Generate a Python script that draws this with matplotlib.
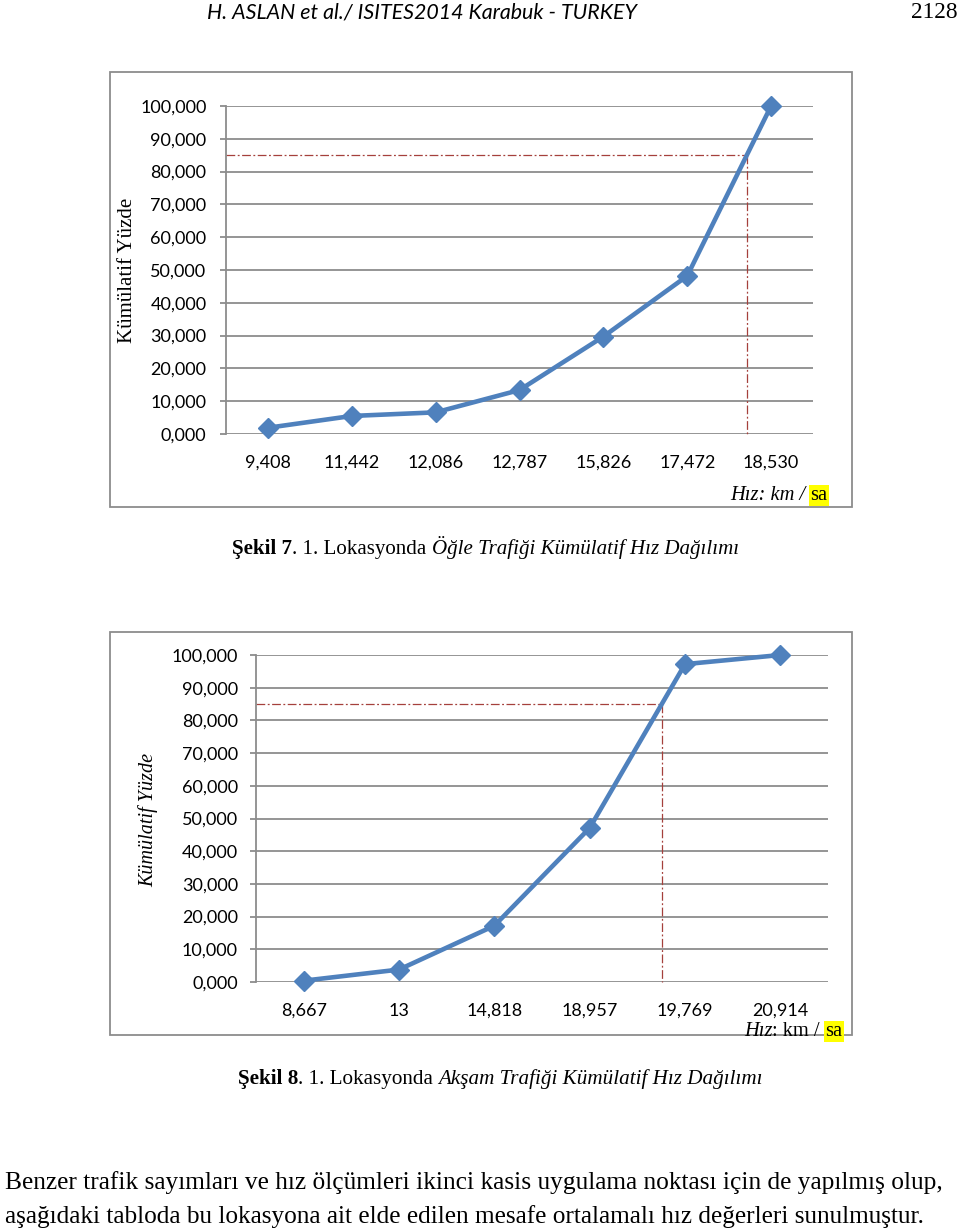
import numpy as np
import matplotlib
matplotlib.use("Agg")
from matplotlib import pyplot as plt
from matplotlib.patches import Rectangle

# Sekil 7 - ogle trafigi
noon_speeds = ["9,408", "11,442", "12,086", "12,787", "15,826", "17,472", "18,530"]
noon_cum = [1.9, 5.5, 6.6, 13.4, 29.7, 48.2, 100.0]

# Sekil 8 - aksam trafigi
eve_speeds = ["8,667", "13", "14,818", "18,957", "19,769", "20,914"]
eve_cum = [0.4, 3.8, 17.2, 47.1, 97.2, 100.0]

level_85 = 85.0
y_ticks = list(range(0, 101, 10))
y_tick_labels = [f"{v},000" for v in y_ticks]

W, H = 960, 1231
GRID = "#8c8c8c"
BLUE = "#4f81bd"
RED = "#a5403c"
SERIF = "Liberation Serif"
SANS = "Lato"

fig = plt.figure(figsize=(W / 100, H / 100), dpi=100)

# background axes in pixel coordinates for page text and frames
bg = fig.add_axes([0, 0, 1, 1])
bg.set_xlim(0, W)
bg.set_ylim(H, 0)
bg.axis("off")


def chain(x, y, parts, size):
    # write text pieces one after another on the same line
    prev = None
    for txt, kw in parts:
        if prev is None:
            prev = bg.text(x, y, txt, fontsize=size, family=SERIF, va="bottom", **kw)
        else:
            prev = bg.annotate(txt, xy=(1, 0), xycoords=prev, fontsize=size,
                               family=SERIF, va="bottom", **kw)
    return prev


def chart(left, right, top, bottom, labels, values, pad_y):
    ax = fig.add_axes([left / W, 1 - bottom / H, (right - left) / W, (bottom - top) / H])
    ax.patch.set_alpha(0)
    x = np.arange(len(labels))
    ax.set_xlim(-0.5, len(labels) - 0.5)
    ax.set_ylim(0, 100)
    ax.set_yticks(y_ticks, y_tick_labels)
    ax.set_xticks(x, labels)
    ax.grid(axis="y", color=GRID, lw=1.3)
    ax.set_axisbelow(True)
    for s in ["top", "right", "bottom"]:
        ax.spines[s].set_visible(False)
    ax.spines["left"].set_color(GRID)
    ax.spines["left"].set_linewidth(1.3)
    ax.tick_params(axis="y", length=4, color=GRID, width=1.3, pad=pad_y)
    ax.tick_params(axis="x", length=0, pad=15)
    for t in ax.get_xticklabels() + ax.get_yticklabels():
        t.set_fontfamily(SANS)
        t.set_fontsize(13)

    cross = np.interp(level_85, values, x)
    ax.plot([-0.5, cross], [level_85, level_85], color=RED, lw=0.9,
            ls=(0, (7, 2, 1.5, 2)), clip_on=False)
    ax.plot([cross, cross], [level_85, 0], color=RED, lw=0.9,
            ls=(0, (7, 2, 1.5, 2)), clip_on=False)
    ax.plot(x, values, color=BLUE, lw=3.3, marker="D", ms=10, clip_on=False, zorder=3)
    return ax


# header
bg.text(207, 13, "H. ASLAN et al./ ISITES2014 Karabuk - TURKEY", fontsize=15.4,
        family=SANS, style="italic", va="center")
bg.text(958, 13, "2128", fontsize=16.8, family=SERIF, ha="right", va="center")

# chart 1
bg.add_patch(Rectangle((110, 72), 742, 435, fill=False, ec=GRID, lw=1.3))
chart(226, 813, 106, 434, noon_speeds, noon_cum, 10)
bg.text(127, 270, "Kümülatif Yüzde", rotation=90, fontsize=15, family=SERIF,
        ha="center", va="center")
chain(730, 505, [("Hız: km / ", dict(style="italic")),
                 ("sa", dict(bbox=dict(fc="#ffff00", ec="none", pad=1)))], 14.8)
chain(232, 559, [("Şekil 7", dict(weight="bold")),
                 (". 1. Lokasyonda ", {}),
                 ("Öğle Trafiği Kümülatif Hız Dağılımı", dict(style="italic"))], 15.1)

# chart 2
bg.add_patch(Rectangle((110, 632), 742, 403, fill=False, ec=GRID, lw=1.3))
chart(256, 828, 655, 982, eve_speeds, eve_cum, 9)
bg.text(148, 820, "Kümülatif Yüzde", rotation=90, fontsize=14.5, family=SERIF,
        style="italic", ha="center", va="center")
chain(744, 1041, [("Hız", dict(style="italic")),
                  (": km / ", {}),
                  ("sa", dict(bbox=dict(fc="#ffff00", ec="none", pad=1)))], 14.8)
chain(238, 1089, [("Şekil 8", dict(weight="bold")),
                  (". 1. Lokasyonda ", {}),
                  ("Akşam Trafiği Kümülatif Hız Dağılımı", dict(style="italic"))], 15.2)

# body text
bg.text(5, 1183, "Benzer trafik sayımları ve hız ölçümleri ikinci kasis uygulama noktası "
        "için de yapılmış olup,", fontsize=18.3, family=SERIF, va="center")
bg.text(5, 1217, "aşağıdaki tabloda bu lokasyona ait elde edilen mesafe ortalamalı hız "
        "değerleri sunulmuştur.", fontsize=18.2, family=SERIF, va="center")

fig.savefig("out.png", dpi=100)
